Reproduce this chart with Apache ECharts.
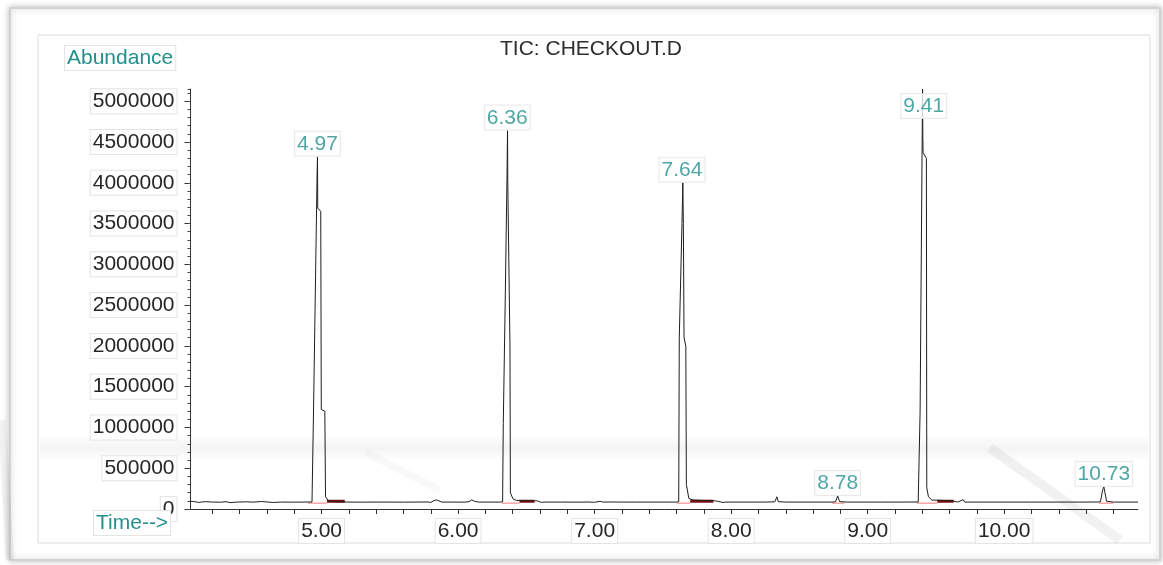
<!DOCTYPE html>
<html>
<head>
<meta charset="utf-8">
<script src="https://cdn.jsdelivr.net/npm/echarts@6/dist/echarts.min.js"></script>
<style>
html,body{margin:0;padding:0;background:#fff;}
#chart{width:1163px;height:565px;}
</style>
</head>
<body>
<div id="chart"></div>
<script>
// ---- data ----
const chartTitle = 'TIC: CHECKOUT.D';
const yAxisTitle = 'Abundance';
const xAxisTitle = 'Time-->';

// retention time (min) and abundance of the TIC trace
const ticTime = [
  4.040, 4.060, 4.080, 4.100, 4.120, 4.150, 4.200, 4.260, 4.300, 4.330, 4.380, 4.450, 4.500, 4.560, 4.600, 4.650, 4.700, 4.800, 4.880, 4.930,
  4.938, 4.941, 4.967, 4.970, 4.972, 4.994, 4.998, 5.024, 5.029, 5.050, 5.120, 5.200, 5.300, 5.400, 5.500, 5.600, 5.700, 5.780, 5.800, 5.820,
  5.840, 5.860, 5.880, 5.950, 6.050, 6.080, 6.100, 6.120, 6.150, 6.250, 6.310,
  6.326, 6.331, 6.346, 6.358, 6.362, 6.364, 6.380, 6.383, 6.392, 6.405, 6.430, 6.500, 6.580, 6.610, 6.630, 6.750, 6.900, 6.950, 7.000, 7.040,
  7.060, 7.150, 7.160, 7.180, 7.300, 7.450, 7.600,
  7.616, 7.620, 7.640, 7.646, 7.650, 7.655, 7.668, 7.672, 7.690, 7.720, 7.800, 7.860, 7.900, 7.940, 7.960, 8.100, 8.250, 8.320, 8.335, 8.345,
  8.400, 8.600, 8.740,
  8.765, 8.780, 8.795, 8.850, 8.950, 9.100, 9.250, 9.370,
  9.382, 9.384, 9.402, 9.404, 9.406, 9.430, 9.433, 9.445, 9.470, 9.550, 9.620, 9.660, 9.700, 9.710, 9.800, 10.000, 10.200, 10.400, 10.600, 10.690,
  10.705, 10.722, 10.730, 10.738, 10.750, 10.800, 10.980
];
const ticAbundance = [
  95000, 92000, 88000, 80000, 86000, 90000, 85000, 83000, 90000, 78000, 85000, 88000, 84000, 92000, 86000, 80000, 85000, 84000, 85000, 86000,
  90000, 1190000, 4070000, 4320000, 3690000, 3650000, 1220000, 1200000, 150000, 100000, 88000, 85000, 84000, 85000, 85000, 84000, 85000, 86000, 80000, 100000,
  112000, 100000, 85000, 85000, 84000, 90000, 112000, 95000, 85000, 85000, 85000,
  88000, 1050000, 2650000, 4050000, 4640000, 4000000, 2000000, 200000, 160000, 120000, 105000, 100000, 100000, 80000, 85000, 85000, 84000, 86000, 82000, 95000,
  85000, 86000, 96000, 85000, 85000, 85000, 85000,
  88000, 2100000, 3500000, 4000000, 3500000, 2100000, 2000000, 300000, 130000, 110000, 105000, 105000, 95000, 80000, 85000, 85000, 85000, 88000, 150000, 90000,
  85000, 85000, 85000,
  88000, 160000, 90000, 85000, 85000, 85000, 85000, 86000,
  90000, 1190000, 5150000, 4550000, 4370000, 4300000, 260000, 150000, 110000, 105000, 100000, 85000, 115000, 85000, 85000, 85000, 85000, 85000, 85000, 86000,
  90000, 240000, 270000, 200000, 95000, 85000, 85000
];

// labelled peaks
const peakTimes   = [4.97, 6.36, 7.64, 8.78, 9.41, 10.73];
const peakHeights = [4320000, 4640000, 4000000, 160000, 5150000, 270000];
const peakLabels  = ['4.97', '6.36', '7.64', '8.78', '9.41', '10.73'];

// integration marks under the peaks (start, end)
const baselineMarks = [[4.90, 5.04], [6.32, 6.45], [7.60, 7.70], [8.74, 8.83], [9.36, 9.51], [10.69, 10.80]];
const tailMarks     = [[5.04, 5.17], [6.45, 6.56], [7.70, 7.87], [9.51, 9.63]];
const baselineMarkLevel = 72000;
const tailMarkLevel = 95000;

// axes
const xMin = 4.04, xMax = 10.98;
const xLabelValues = [5, 6, 7, 8, 9, 10];
const xTickValues = [4.2, 4.4, 4.6, 4.8, 5.0, 5.2, 5.4, 5.6, 5.8, 6.0, 6.2, 6.4, 6.6, 6.8, 7.0, 7.2, 7.4, 7.6, 7.8, 8.0,
                     8.2, 8.4, 8.6, 8.8, 9.0, 9.2, 9.4, 9.6, 9.8, 10.0, 10.2, 10.4, 10.6, 10.8];
const yMin = 0, yMax = 5150000, yMajor = 500000, yMinor = 100000, yTopLabel = 5000000;

// ---- build ----
const FONT = "'Liberation Sans','Arial',sans-serif";
const FS = 21;
const TEAL = '#23908d';
const INK = '#262626';

const traceData = ticTime.map((t, i) => [t, ticAbundance[i]]);
function segs(list, level) {
  const out = [];
  list.forEach(([a, b]) => { out.push([a, level], [b, level], [b, '-']); });
  return out;
}
const peakData = peakTimes.map((t, i) => {
  const item = { value: [t, peakHeights[i]], name: peakLabels[i] };
  if (peakHeights[i] >= yMax) item.label = { position: 'bottom', distance: 5 };
  return item;
});

const boxStyle = { backgroundColor: '#fff', borderColor: '#e4e4e4', borderWidth: 1, padding: [2, 2, 1, 2] };

const chart = echarts.init(document.getElementById('chart'), null, { renderer: 'canvas' });
chart.setOption({
  animation: false,
  backgroundColor: '#fff',
  title: {
    text: chartTitle, left: 500, top: 39, padding: 0,
    textStyle: Object.assign({ fontFamily: FONT, fontSize: FS, fontWeight: 'normal', color: '#2e2e2e' }, boxStyle)
  },
  graphic: [
    // outer window frame with soft shadow
    { type: 'rect', z: -10, silent: true, shape: { x: 10, y: 8, width: 1150, height: 552 },
      style: { fill: '#fff', stroke: '#d2d2d2', lineWidth: 2, shadowBlur: 6, shadowColor: 'rgba(0,0,0,0.25)' } },
    // inner plot panel
    { type: 'rect', z: -9, silent: true, shape: { x: 38, y: 35, width: 1112, height: 508 },
      style: { fill: '#fff', stroke: '#dcdcdc', lineWidth: 1 } },
    // faint reflection band
    { type: 'rect', z: -8, silent: true, shape: { x: 40, y: 434, width: 1108, height: 28 },
      style: { fill: { type: 'linear', x: 0, y: 0, x2: 0, y2: 1, colorStops: [
        { offset: 0, color: 'rgba(0,0,0,0)' }, { offset: 0.5, color: 'rgba(0,0,0,0.045)' }, { offset: 1, color: 'rgba(0,0,0,0)' }] } } },
    { type: 'polyline', z: -8, silent: true, shape: { points: [[990, 448], [1120, 540]] },
      style: { stroke: 'rgba(0,0,0,0.05)', lineWidth: 10, shadowBlur: 14, shadowColor: 'rgba(0,0,0,0.12)' } },
    { type: 'polyline', z: -8, silent: true, shape: { points: [[365, 452], [440, 490]] },
      style: { stroke: 'rgba(0,0,0,0.025)', lineWidth: 8, shadowBlur: 12, shadowColor: 'rgba(0,0,0,0.06)' } },
    { type: 'polyline', z: -8, silent: true, shape: { points: [[2, 420], [10, 560]] },
      style: { stroke: 'rgba(0,0,0,0.05)', lineWidth: 8, shadowBlur: 10, shadowColor: 'rgba(0,0,0,0.1)' } },
    // axis captions
    { type: 'text', z: 10, left: 64, top: 45,
      style: Object.assign({ text: yAxisTitle, fontFamily: FONT, fontSize: FS, fill: TEAL }, boxStyle) },
    { type: 'text', z: 10, left: 93, top: 510,
      style: Object.assign({ text: xAxisTitle, fontFamily: FONT, fontSize: FS, fill: TEAL }, boxStyle) }
  ],
  grid: { left: 190.5, right: 25, top: 89, bottom: 56, containLabel: false },
  xAxis: {
    type: 'value', min: xMin, max: xMax,
    axisLine: { show: true, onZero: false, lineStyle: { color: '#333', width: 1 } },
    axisTick: { show: true, inside: false, length: 5, customValues: xTickValues, lineStyle: { color: '#333' } },
    axisLabel: Object.assign({ customValues: xLabelValues, margin: 10, fontFamily: FONT, fontSize: FS, color: INK,
      formatter: v => Number(v).toFixed(2) }, boxStyle),
    splitLine: { show: false }
  },
  yAxis: [
    {
      type: 'value', min: yMin, max: yMax, interval: yMajor,
      axisLine: { show: true, lineStyle: { color: '#333', width: 1 } },
      axisTick: { show: true, inside: false, length: 6, lineStyle: { color: '#333' } },
      axisLabel: Object.assign({ margin: 14, fontFamily: FONT, fontSize: FS, color: INK,
        formatter: v => (v > yTopLabel ? '' : String(v)) }, boxStyle),
      splitLine: { show: false }
    },
    {
      type: 'value', min: yMin, max: yMax, interval: yMinor, position: 'left',
      axisLine: { show: false },
      axisTick: { show: true, inside: false, length: 3, lineStyle: { color: '#444' } },
      axisLabel: { show: false },
      splitLine: { show: false }
    }
  ],
  series: [
    {
      name: 'baseline marks', type: 'line', data: segs(baselineMarks, baselineMarkLevel),
      symbol: 'none', connectNulls: false, lineStyle: { color: '#f07a7a', width: 1 }, z: 1, silent: true
    },
    {
      name: 'tail marks', type: 'line', data: segs(tailMarks, tailMarkLevel),
      symbol: 'none', connectNulls: false, lineStyle: { color: '#7a1010', width: 3 }, z: 1, silent: true
    },
    {
      name: 'TIC', type: 'line', data: traceData, symbol: 'none',
      lineStyle: { color: '#1e1e1e', width: 1 }, clip: true, z: 2
    },
    {
      name: 'peaks', type: 'scatter', data: peakData, symbolSize: 0, z: 5,
      label: Object.assign({ show: true, position: 'top', distance: 1, formatter: p => p.name,
        fontFamily: FONT, fontSize: FS, color: TEAL }, boxStyle)
    }
  ]
});
</script>
</body>
</html>
